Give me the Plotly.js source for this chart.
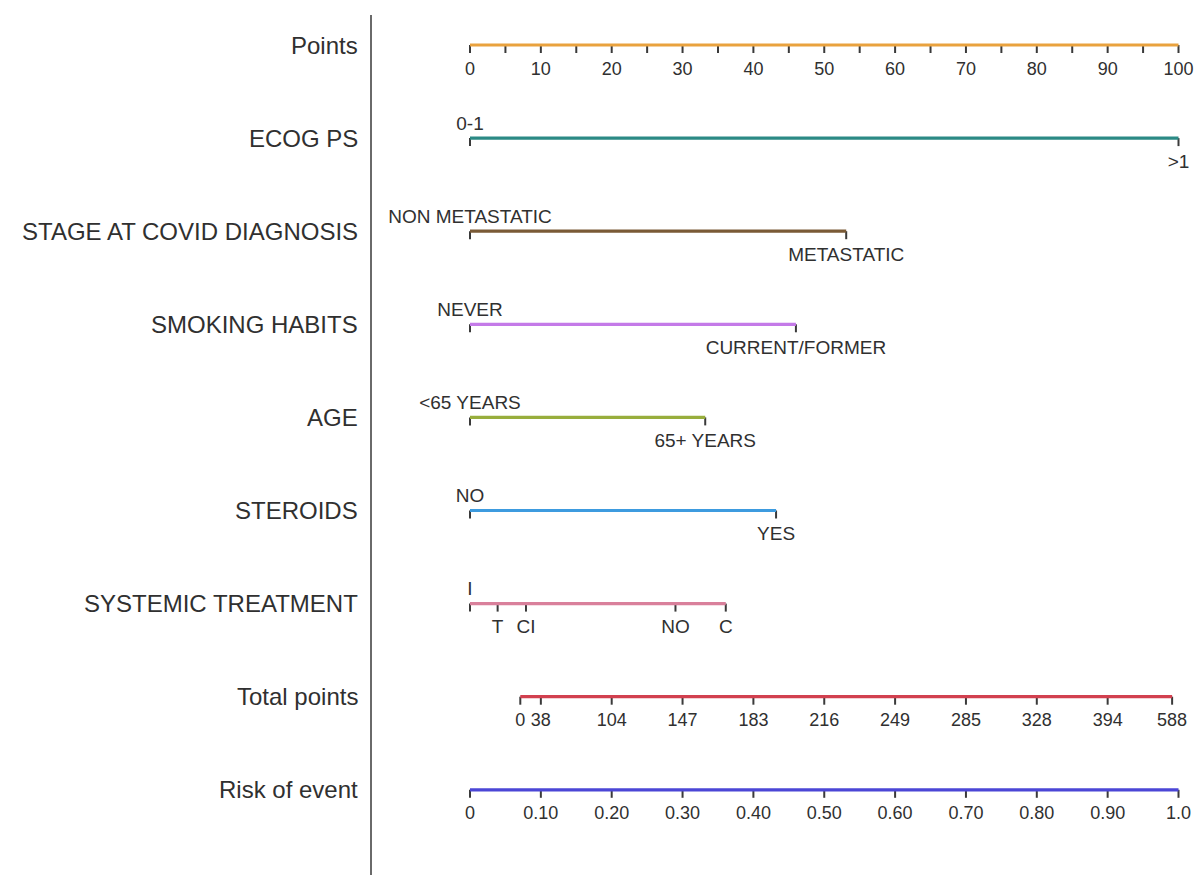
<!DOCTYPE html>
<html>
<head>
<meta charset="utf-8">
<script src="https://cdn.plot.ly/plotly-3.0.1.min.js"></script>
<style>html,body{margin:0;padding:0;background:#fff;}#chart{width:1201px;height:875px;}</style>
</head>
<body>
<div id="chart"></div>
<script>
// ---------- data ----------
const rowNames = ["Points", "ECOG PS", "STAGE AT COVID DIAGNOSIS", "SMOKING HABITS", "AGE",
                  "STEROIDS", "SYSTEMIC TREATMENT", "Total points", "Risk of event"];

const pointsLabels = [0, 10, 20, 30, 40, 50, 60, 70, 80, 90, 100];
const pointsMinor  = [0, 5, 10, 15, 20, 25, 30, 35, 40, 45, 50, 55, 60, 65, 70, 75, 80, 85, 90, 95, 100];

const ecogLevels = ["0-1", ">1"];
const ecogPoints = [0, 100];
const stageLevels = ["NON METASTATIC", "METASTATIC"];
const stagePoints = [0, 53.1];
const smokingLevels = ["NEVER", "CURRENT/FORMER"];
const smokingPoints = [0, 46.0];
const ageLevels = ["<65 YEARS", "65+ YEARS"];
const agePoints = [0, 33.2];
const steroidLevels = ["NO", "YES"];
const steroidPoints = [0, 43.2];
const systemicLevels = ["I", "T", "CI", "NO", "C"];
const systemicPoints = [0, 3.9, 7.9, 29.0, 36.1];

const totalPointsLabels = ["0", "38", "104", "147", "183", "216", "249", "285", "328", "394", "588"];
const totalPointsRisk   = [0.071, 0.10, 0.20, 0.30, 0.40, 0.50, 0.60, 0.70, 0.80, 0.90, 0.991];

const riskLabels = ["0", "0.10", "0.20", "0.30", "0.40", "0.50", "0.60", "0.70", "0.80", "0.90", "1.0"];
const riskValues = [0, 0.10, 0.20, 0.30, 0.40, 0.50, 0.60, 0.70, 0.80, 0.90, 1.0];

// ---------- styling / layout ----------
const rowColors = ["#E9A23E", "#2B8A85", "#7A5A36", "#C47AE8", "#98AE3C",
                   "#3D9BDF", "#D9809B", "#D2404F", "#4B46D6"];
const FONT = "Liberation Sans, Arial, Helvetica, sans-serif";
const TXT = "#303030";
const rowY = i => 45 + i * 93.1;   // pixel-like y used as data units on the y axis
const tickLen = 8;
const aboveOff = -13, belowOff = 25;
const riskToPoints = r => r * 100;  // risk axis spans the same length as 0..100 points

const traces = [];
const annotations = [];

function addAxisRow(i, xs, xMin, xMax) {
  const y = rowY(i);
  const tx = [], ty = [];
  xs.forEach(x => { tx.push(x, x, null); ty.push(y, y + tickLen, null); });
  traces.push({x: tx, y: ty, mode: "lines", line: {color: "#3a3a3a", width: 2}, hoverinfo: "skip"});
  traces.push({x: [xMin, xMax], y: [y, y], mode: "lines", line: {color: rowColors[i], width: 3.2}, hoverinfo: "skip"});
}
function addText(xs, ys, texts, size) {
  traces.push({x: xs, y: ys, text: texts, mode: "text", textposition: "middle center",
               textfont: {family: FONT, size: size, color: TXT}, hoverinfo: "skip", cliponaxis: false});
}

// Points row
addAxisRow(0, pointsMinor, pointsMinor[0], pointsMinor[pointsMinor.length - 1]);
addText(pointsLabels, pointsLabels.map(() => rowY(0) + 25), pointsLabels.map(String), 18);

// categorical rows
const catRows = [
  [1, ecogLevels, ecogPoints],
  [2, stageLevels, stagePoints],
  [3, smokingLevels, smokingPoints],
  [4, ageLevels, agePoints],
  [5, steroidLevels, steroidPoints],
  [6, systemicLevels, systemicPoints]
];
catRows.forEach(([i, levels, pts]) => {
  addAxisRow(i, pts, Math.min(...pts), Math.max(...pts));
  const ys = pts.map((p, k) => rowY(i) + (k === 0 ? aboveOff : belowOff));
  addText(pts, ys, levels, 19);
});

// Total points row
const tpX = totalPointsRisk.map(riskToPoints);
addAxisRow(7, tpX, tpX[0], tpX[tpX.length - 1]);
addText(tpX, tpX.map(() => rowY(7) + 25), totalPointsLabels, 18);

// Risk row
const rkX = riskValues.map(riskToPoints);
addAxisRow(8, rkX, rkX[0], rkX[rkX.length - 1]);
addText(rkX, rkX.map(() => rowY(8) + 25), riskLabels, 18);

// Row names on the left
rowNames.forEach((name, i) => {
  annotations.push({xref: "paper", yref: "y", x: 0, y: rowY(i), xanchor: "right", yanchor: "middle",
    xshift: -12, text: name, showarrow: false, font: {family: FONT, size: 24, color: TXT}});
});

const zeroPx = 470, pxPerUnit = 7.085, leftPx = 372, W = 1201, H = 875;
const layout = {
  width: W, height: H,
  margin: {l: leftPx, r: 0, t: 15, b: 0, pad: 0},
  paper_bgcolor: "#ffffff", plot_bgcolor: "#ffffff",
  showlegend: false, hovermode: false,
  xaxis: {range: [(leftPx - zeroPx) / pxPerUnit, (W - zeroPx) / pxPerUnit], visible: false, fixedrange: true},
  yaxis: {range: [H, 15], showline: true, linecolor: "#6a6a6a", linewidth: 2, showgrid: false,
          zeroline: false, showticklabels: false, ticks: "", fixedrange: true},
  annotations: annotations
};
Plotly.newPlot("chart", traces, layout, {staticPlot: true, displayModeBar: false});
</script>
</body>
</html>
